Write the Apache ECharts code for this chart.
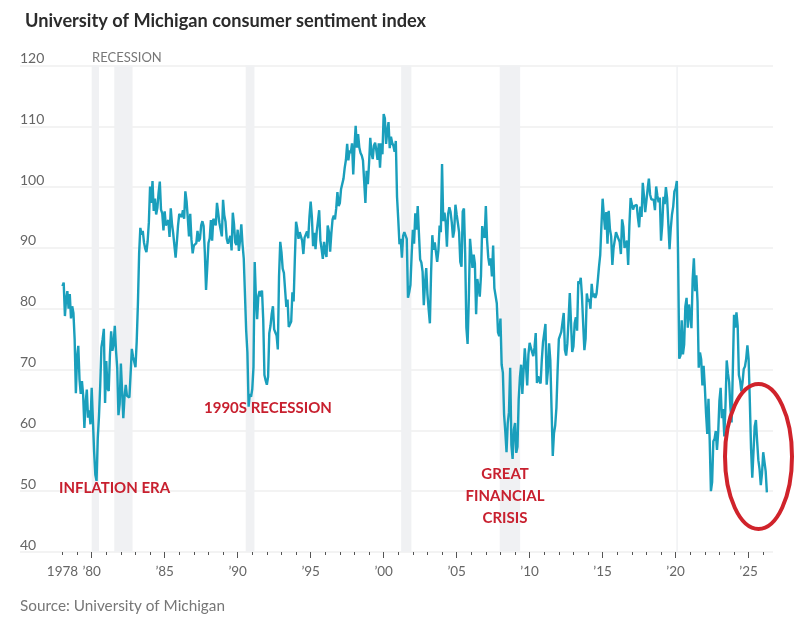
<!DOCTYPE html>
<html>
<head>
<meta charset="utf-8">
<title>University of Michigan consumer sentiment index</title>
<style>
    html, body { margin: 0; padding: 0; background: #fff; }
    #chart { width: 800px; height: 634px; }
</style>
<script src="https://cdn.jsdelivr.net/npm/echarts@6/dist/echarts.min.js"></script>
</head>
<body>
<div id="chart"></div>
<script>
// Monthly readings, first value is January of START_YEAR
const START_YEAR = 1978;
const values1978to1989 = [
    83.7, 84.3, 78.8, 81.6, 82.9, 80.0, 82.4, 78.4, 80.4, 79.3, 75.0, 66.1,
    72.1, 73.9, 68.4, 66.0, 68.1, 65.8, 60.4, 64.5, 66.7, 62.1, 63.3, 61.0,
    67.0, 66.9, 56.5, 52.7, 51.7, 58.7, 62.3, 67.3, 73.7, 75.0, 76.7, 64.5,
    71.4, 66.9, 66.5, 72.4, 76.3, 73.1, 74.1, 77.2, 73.1, 70.3, 62.5, 64.3,
    71.0, 66.5, 62.0, 65.5, 67.5, 65.7, 65.4, 65.4, 69.3, 73.4, 72.1, 71.9,
    70.4, 74.6, 80.8, 89.1, 93.3, 92.2, 92.8, 90.9, 89.9, 89.3, 91.1, 94.2,
    100.1, 97.4, 101.0, 96.1, 98.1, 95.5, 96.6, 99.1, 100.9, 96.3, 95.7, 92.9,
    96.0, 93.7, 93.7, 94.6, 91.8, 96.5, 94.0, 92.4, 92.1, 88.4, 90.9, 93.7,
    95.6, 95.9, 95.1, 96.2, 94.8, 99.3, 97.7, 94.9, 91.9, 95.6, 91.4, 89.1,
    90.4, 90.2, 90.8, 92.8, 91.1, 91.5, 93.7, 94.4, 93.6, 89.3, 83.1, 86.8,
    90.8, 91.6, 94.6, 91.2, 94.8, 94.7, 93.7, 97.4, 97.3, 94.1, 93.0, 91.9,
    97.9, 95.4, 94.3, 91.5, 90.7, 90.6, 92.0, 89.6, 95.8, 93.9, 90.9, 90.5,
];
const values1990to1999 = [
    93.0, 89.5, 91.3, 93.9, 90.6, 88.3, 88.2, 76.4, 72.8, 63.9, 66.0, 65.5,
    66.8, 70.4, 87.7, 81.8, 78.3, 82.1, 82.9, 82.0, 83.0, 78.3, 69.1, 68.2,
    67.5, 68.8, 76.0, 77.2, 79.2, 80.4, 76.6, 76.1, 75.6, 73.3, 85.3, 91.0,
    89.3, 86.6, 85.9, 85.6, 80.3, 81.5, 77.0, 77.3, 77.9, 82.7, 81.2, 88.2,
    94.3, 93.2, 91.5, 92.6, 92.8, 91.2, 89.0, 91.7, 91.5, 92.7, 91.6, 95.1,
    97.6, 95.1, 90.3, 92.5, 89.8, 92.7, 94.4, 96.2, 91.2, 89.8, 88.2, 91.0,
    89.3, 88.5, 93.7, 92.7, 89.4, 92.4, 94.7, 95.3, 94.7, 96.5, 99.2, 96.9,
    97.4, 99.7, 100.0, 101.4, 103.2, 104.5, 107.1, 104.4, 106.0, 105.6, 107.2, 102.1,
    106.6, 110.1, 106.5, 108.7, 106.5, 105.6, 105.2, 104.4, 100.9, 97.4, 102.7, 100.5,
    103.9, 108.1, 105.7, 104.6, 106.8, 107.3, 106.0, 104.5, 107.2, 103.2, 107.2, 105.4,
];
const values2000to2009 = [
    112.0, 111.3, 107.1, 109.2, 110.7, 106.4, 108.3, 107.3, 106.8, 105.8, 107.6, 98.4,
    94.7, 90.6, 91.5, 88.4, 92.0, 92.6, 92.4, 91.5, 81.8, 82.7, 83.9, 88.8,
    93.0, 90.7, 95.7, 93.0, 96.9, 92.4, 88.1, 87.6, 86.1, 80.6, 84.2, 86.7,
    82.4, 79.9, 77.6, 86.0, 92.1, 89.7, 90.9, 89.3, 87.7, 89.6, 93.7, 92.6,
    103.8, 94.4, 95.8, 94.2, 90.2, 95.6, 96.7, 95.9, 94.2, 91.7, 92.8, 97.1,
    95.5, 94.1, 92.6, 87.7, 86.9, 96.0, 96.5, 89.1, 76.9, 74.2, 81.6, 91.5,
    91.2, 86.7, 88.9, 87.4, 79.1, 84.9, 84.7, 82.0, 85.4, 93.6, 92.1, 91.7,
    96.9, 91.3, 88.4, 87.1, 88.3, 85.3, 90.4, 83.4, 83.4, 80.9, 76.1, 75.5,
    78.4, 70.8, 69.5, 62.6, 59.8, 56.4, 61.2, 63.0, 70.3, 57.6, 55.3, 60.1,
    61.2, 56.3, 57.3, 65.1, 68.7, 70.8, 66.0, 65.7, 73.5, 70.6, 67.4, 72.5,
];
const values2010to2019 = [
    74.4, 73.6, 73.6, 72.2, 73.6, 76.0, 67.8, 68.9, 68.2, 67.7, 71.6, 74.5,
    74.2, 77.5, 67.5, 69.8, 74.3, 71.5, 63.7, 55.8, 59.5, 60.8, 63.7, 69.9,
    75.0, 75.3, 76.2, 76.4, 79.3, 73.2, 72.3, 74.3, 78.3, 82.6, 82.7, 72.9,
    73.8, 77.6, 78.6, 76.4, 84.5, 84.1, 85.1, 82.1, 77.5, 73.2, 75.1, 82.5,
    81.2, 81.6, 80.0, 84.1, 81.9, 82.5, 81.8, 82.5, 84.6, 86.9, 88.8, 93.6,
    98.1, 95.4, 93.0, 95.9, 90.7, 96.1, 93.1, 91.9, 87.2, 90.0, 91.3, 92.6,
    92.0, 91.7, 91.0, 89.0, 94.7, 93.5, 90.0, 89.8, 91.2, 87.2, 93.8, 98.2,
    98.5, 96.3, 96.9, 97.0, 97.1, 95.0, 93.4, 96.8, 95.1, 100.7, 98.5, 95.9,
    95.7, 99.7, 101.4, 98.8, 98.0, 98.2, 97.9, 96.2, 100.1, 98.6, 97.5, 98.3,
    91.2, 93.8, 98.4, 97.2, 100.0, 98.2, 98.4, 89.8, 93.2, 95.5, 96.8, 99.3,
];
const values2020to2026 = [
    99.8, 101.0, 89.1, 71.8, 72.3, 78.1, 72.5, 74.1, 80.4, 81.8, 76.9, 80.7,
    79.0, 76.8, 84.9, 88.3, 82.9, 85.5, 81.2, 70.3, 72.8, 71.7, 67.4, 70.6,
    67.2, 62.8, 59.4, 65.2, 58.4, 50.0, 51.5, 58.2, 58.6, 59.9, 56.8, 59.7,
    64.9, 67.0, 62.0, 63.5, 59.0, 64.2, 71.5, 69.4, 67.9, 63.8, 61.3, 69.7,
    79.0, 76.9, 79.4, 77.2, 69.1, 68.2, 66.4, 67.9, 70.1, 70.5, 71.8, 74.0,
    71.7, 64.7, 57.0, 52.2, 52.2, 60.7, 61.7, 58.2, 55.1, 53.6, 51.0, 52.9,
    56.4, 56.6, 53.3, 49.8,
];

const recessions = [
    [1980.0, 1980.5],
    [1981.55, 1982.8],
    [1990.55, 1991.15],
    [2001.2, 2001.9],
    [2007.95, 2009.35],
    [2020.05, 2020.15],
];
const labelYears = [1978, 1980, 1985, 1990, 1995, 2000, 2005, 2010, 2015, 2020, 2025];
const majorTickYears = [1980, 1985, 1990, 1995, 2000, 2005, 2010, 2015, 2020, 2025];
const minorTickYears = [];
for (let y = 1978; y <= 2026; y++) minorTickYears.push(y);

const X_MIN = 1975.09;
const X_MAX = 2026.67;
const LINE_COLOR = '#1a9fbc';
const BAND_COLOR = '#f0f1f3';
const GRID_COLOR = '#efefef';
const LABEL_COLOR = '#666';
const NOTE_COLOR = '#c8202f';
const NOTE_FONT = { fill: NOTE_COLOR, font: 'bold 15px Lato, sans-serif' };

const allValues = [
    ...values1978to1989, ...values1990to1999, ...values2000to2009,
    ...values2010to2019, ...values2020to2026,
];
const seriesData = allValues.map((v, i) => [START_YEAR + i / 12, v]);

function _yearLabel(value) {
    if (value === START_YEAR) return String(value);
    return '\u2019' + String(value).slice(2);
}

function _note(text, x, y, align) {
    return {
        type: 'text', x, y, z: 100, silent: true,
        style: { text, textAlign: align || 'left', textVerticalAlign: 'middle', ...NOTE_FONT },
    };
}

const chart = echarts.init(document.getElementById('chart'));
chart.setOption({
    animation: false,
    backgroundColor: '#fff',
    title: {
        text: 'University of Michigan consumer sentiment index',
        left: 20,
        top: 7,
        textStyle: { color: '#2b2b2b', fontSize: 18.2, fontWeight: 'bold', fontFamily: 'Lato, sans-serif' },
    },
    grid: { left: 20, right: 27, top: 65.5, bottom: 82 },
    xAxis: [
        {
            type: 'value',
            min: X_MIN,
            max: X_MAX,
            splitLine: { show: false },
            axisLine: { show: false },
            axisTick: { show: true, length: 3, customValues: minorTickYears, lineStyle: { color: '#555' } },
            axisLabel: {
                color: LABEL_COLOR,
                fontSize: 13.5,
                fontFamily: 'Lato, sans-serif',
                margin: 13,
                customValues: labelYears,
                formatter: _yearLabel,
            },
        },
        {
            type: 'value',
            position: 'bottom',
            min: X_MIN,
            max: X_MAX,
            splitLine: { show: false },
            axisLine: { show: false },
            axisTick: { show: true, length: 6, customValues: majorTickYears, lineStyle: { color: '#555' } },
            axisLabel: { show: false },
        },
    ],
    yAxis: {
        type: 'value',
        min: 40,
        max: 120,
        interval: 10,
        axisLine: { show: false },
        axisTick: { show: false },
        splitLine: { lineStyle: { color: GRID_COLOR, width: 1.5 } },
        axisLabel: {
            inside: true,
            margin: 0,
            color: LABEL_COLOR,
            fontSize: 14,
            fontFamily: 'Lato, sans-serif',
            verticalAlign: 'bottom',
            lineHeight: 14,
        },
    },
    series: [{
        type: 'line',
        data: seriesData,
        showSymbol: false,
        smooth: false,
        lineStyle: { color: LINE_COLOR, width: 2.4 },
        z: 3,
        markArea: {
            silent: true,
            itemStyle: { color: BAND_COLOR },
            data: recessions.map(([from, to]) => [{ xAxis: from }, { xAxis: to }]),
        },
    }],
    graphic: [
        {
            type: 'text', x: 92, y: 58, silent: true,
            style: { text: 'RECESSION', textVerticalAlign: 'middle', fill: '#777', font: '13px Lato, sans-serif' },
        },
        {
            type: 'text', x: 20, y: 606, silent: true,
            style: { text: 'Source: University of Michigan', textVerticalAlign: 'middle', fill: '#777', font: '15.3px Lato, sans-serif' },
        },
        _note('INFLATION ERA', 59, 488),
        _note('1990S RECESSION', 204, 408),
        _note('GREAT', 505, 474, 'center'),
        _note('FINANCIAL', 505, 496, 'center'),
        _note('CRISIS', 505, 518, 'center'),
        {
            type: 'ellipse',
            silent: true,
            z: 100,
            shape: { cx: 758.5, cy: 456.5, rx: 33.5, ry: 72.5 },
            style: { fill: 'none', stroke: '#d0232b', lineWidth: 4 },
        },
    ],
});
</script>
</body>
</html>
